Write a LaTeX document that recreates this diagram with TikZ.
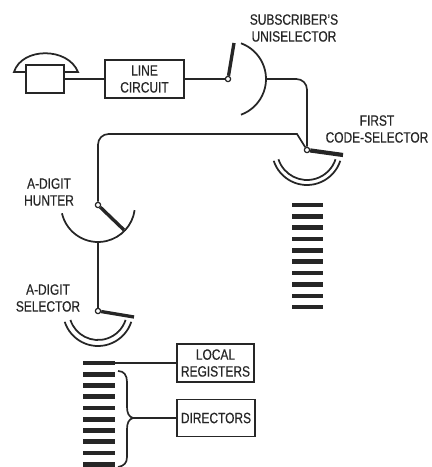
\documentclass[tikz,border=0pt]{standalone}
\usepackage{fontspec}
\setmainfont[FakeStretch=0.8,FakeBold=0.4]{Liberation Sans}
\usepackage{tikz}
\usetikzlibrary{positioning}

\tikzset{
  wire/.style={line width=0.95pt,black!85},
  arm/.style={line width=1.9pt,black!85},
  contact/.style={line width=1pt,black!85},
  pivot/.style={draw=black!85,line width=0.7pt,circle,fill=white,inner sep=0pt,minimum size=3pt},
  labelbox/.style={draw=black!85,line width=0.9pt,align=center,inner sep=0pt,text=black!85,font=\fontsize{8.5}{9.6}\selectfont},
  caption/.style={align=center,inner sep=0pt,text=black!85,font=\fontsize{8.5}{9.6}\selectfont},
  barbox/.style={fill=black!85,inner sep=0pt,minimum width=18pt,minimum height=2.6pt}
}

\begin{document}
\begin{tikzpicture}[x=0.02cm,y=0.02cm]
\useasboundingbox (0,0) rectangle (432,467);

\node[labelbox,minimum width=21.5pt,minimum height=15.9pt] (phone) at (45,388) {};
\node[labelbox,minimum width=44.8pt,minimum height=21.5pt] (linecircuit) at (144.5,388) {LINE\\CIRCUIT};
\node[labelbox,minimum width=43.7pt,minimum height=21.5pt] (local) at (215.5,104) {LOCAL\\REGISTERS};
\node[labelbox,minimum width=44.2pt,minimum height=21pt] (directors) at (216,49) {DIRECTORS};

\node[pivot] (uni) at (228,388) {};
\node[pivot] (code) at (307,317) {};
\node[pivot] (hunter) at (98,262) {};
\node[pivot] (selector) at (98,156) {};

\node[caption] (unitext) at (294,439) {SUBSCRIBER'S\\UNISELECTOR};
\node[caption] (codetext) at (377,338) {FIRST\\CODE-SELECTOR};
\node[caption] (huntertext) at (49,275) {A-DIGIT\\HUNTER};
\node[caption] (selectortext) at (48,169) {A-DIGIT\\SELECTOR};

\foreach \i in {0,...,9} {
  \node[barbox] (codebar\i) at (307.5,{262-11.35*\i}) {};
  \node[barbox] (bankbar\i) at (99,{104-11.25*\i}) {};
}

\coordinate (uniarm) at (234,424);
\coordinate (uniout) at (266,388);
\coordinate (codearm) at (343,312);
\coordinate (bend) at (297,333);
\coordinate (hunterarm) at (124,237);
\coordinate (hunterout) at (98,225);
\coordinate (selectorarm) at (134,150);
\coordinate (bracetip) at (133,49);

% handset
\draw[contact] (phone.west |- 0,395) -- (14,395) .. controls (22,420) and (68,420) .. (78,395) -- (phone.east |- 0,395);

\draw[wire] (phone) -- (linecircuit);
\draw[wire] (linecircuit) -- (uni);
\draw[wire,rounded corners=6pt] (uniout) -| (code);
\draw[wire] (code) -- (bend) [rounded corners=6pt] -- (bend -| hunter) -- (hunter);
\draw[wire] (hunterout) -- (selector);
\draw[wire] (bankbar0) -- (local);
\draw[wire] (bracetip) -- (directors);

\draw[arm] (uni) -- (uniarm);
\draw[arm,line width=2.4pt] (code) -- (codearm);
\draw[arm] (hunter) -- (hunterarm);
\draw[arm] (selector) -- (selectorarm);

\draw[contact] (uni) ++(70:38) arc[start angle=70,end angle=-70,radius=38];
\draw[contact] (code) ++(198:30) arc[start angle=198,end angle=342,radius=30];
\draw[contact] (code) ++(198:35) arc[start angle=198,end angle=342,radius=35];
\draw[contact] (hunter) ++(193:37) arc[start angle=193,end angle=352,radius=37];
\draw[contact] (selector) ++(198:29) arc[start angle=198,end angle=342,radius=29];
\draw[contact] (selector) ++(198:35) arc[start angle=198,end angle=342,radius=35];

% brace
\draw[wire] (118,96) .. controls (124,96) and (127,92) .. (127,85) -- (127,60) .. controls (127,54) and (129,50) .. (bracetip)
  .. controls (129,48) and (127,44) .. (127,38) -- (127,10) .. controls (127,4) and (124,1) .. (118,0);
\end{tikzpicture}
\end{document}
